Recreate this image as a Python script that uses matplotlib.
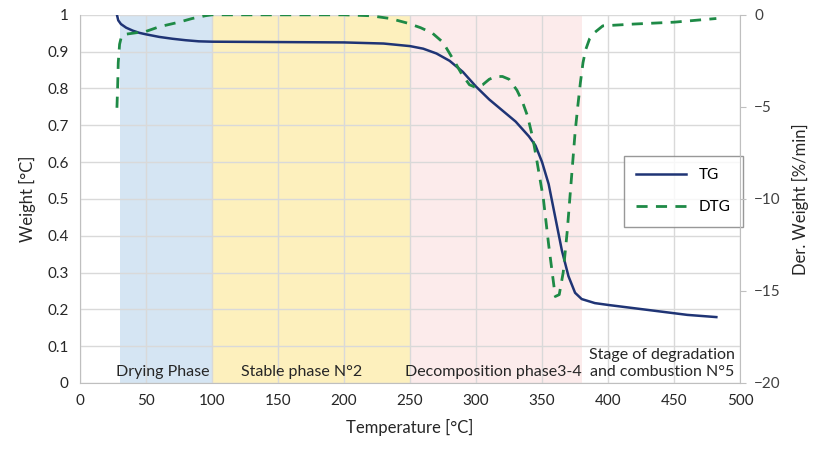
import matplotlib.pyplot as plt

plt.rcParams['font.family'] = ['Lato', 'DejaVu Sans']

# TG curve (weight fraction vs temperature)
tg_temp = [28, 29, 31, 35, 40, 45, 50, 60, 70, 80, 90, 100, 150, 200, 230, 250, 260,
           270, 280, 290, 300, 310, 320, 330, 340, 345, 350, 355, 360, 365, 370,
           375, 380, 390, 400, 420, 440, 460, 482]
tg_weight = [1.0, 0.985, 0.975, 0.965, 0.957, 0.951, 0.947, 0.94, 0.935, 0.931, 0.928,
             0.927, 0.926, 0.925, 0.922, 0.915, 0.908, 0.895, 0.875, 0.845, 0.805,
             0.77, 0.74, 0.71, 0.67, 0.645, 0.6, 0.54, 0.45, 0.36, 0.29, 0.245,
             0.228, 0.217, 0.212, 0.203, 0.194, 0.185, 0.179]

# DTG curve (%/min vs temperature)
dtg_temp = [28, 28.5, 29, 30, 31.5, 35, 40, 50, 60, 75, 85, 95, 100, 150, 200, 220,
            235, 248, 258, 267, 275, 280, 285, 289, 295, 300, 305, 310, 315, 320,
            325, 331, 335, 339, 343, 346, 351, 355, 360, 363, 366, 369, 371, 373,
            375, 377, 379, 381, 383, 386, 390, 396, 420, 450, 482]
dtg_value = [-5.05, -4.0, -2.6, -1.6, -1.15, -1.05, -1.0, -0.9, -0.65, -0.4, -0.2,
             -0.05, 0.0, 0.0, 0.0, -0.05, -0.2, -0.45, -0.7, -1.0, -1.5, -2.1,
             -2.7, -3.2, -3.8, -3.95, -3.8, -3.5, -3.35, -3.35, -3.5, -4.1, -4.7,
             -5.5, -6.7, -7.9, -10.0, -12.5, -15.3, -15.2, -14.0, -11.8, -10.0,
             -8.2, -6.4, -5.0, -3.7, -2.6, -1.9, -1.3, -0.95, -0.6, -0.5, -0.4, -0.2]

# shaded phases (start, end, colour)
phase_start = [30, 100, 250]
phase_end = [100, 250, 380]
phase_color = ['#d5e5f3', '#fdf0bd', '#fcebeb']

phase_labels = ['Drying Phase', 'Stable phase N°2', 'Decomposition phase3-4',
                'Stage of degradation\nand combustion N°5']
label_x = [63, 168, 313, 441]

fig = plt.figure(figsize=(8.16, 4.49), dpi=100)
ax = fig.add_axes([0.098, 0.147, 0.809, 0.820])
ax2 = ax.twinx()

for s, e, c in zip(phase_start, phase_end, phase_color):
    ax.axvspan(s, e, color=c, zorder=0, lw=0)

ax.set_xlim(0, 500)
ax.set_ylim(0, 1)
ax.set_xticks(range(0, 501, 50))
ax.set_yticks([i / 10 for i in range(11)])
ax.set_yticklabels(['0', '0.1', '0.2', '0.3', '0.4', '0.5', '0.6', '0.7', '0.8', '0.9', '1'])
ax.grid(True, color='#d9d9d9', lw=1, zorder=1)
ax.set_axisbelow(True)

ax2.set_ylim(-20, 0)
ax2.set_yticks([-20, -15, -10, -5, 0])

tg_line, = ax.plot(tg_temp, tg_weight, color='#1f3475', lw=1.8, zorder=4, label='TG')
dtg_line, = ax2.plot(dtg_temp, dtg_value, color='#1e8a46', lw=2.0, ls=(0, (4, 3)),
                     zorder=4, label='DTG')

for lab, x in zip(phase_labels, label_x):
    ax.text(x, 0.012, lab, ha='center', va='bottom', fontsize=11.5, color='#262626',
            linespacing=1.2, zorder=5)

for a in (ax, ax2):
    for side in ('top', 'right', 'left', 'bottom'):
        a.spines[side].set_visible(False)
ax.spines['bottom'].set_visible(True)
ax.spines['bottom'].set_color('#bfbfbf')
ax.spines['left'].set_visible(True)
ax.spines['left'].set_color('#bfbfbf')
ax2.spines['right'].set_visible(True)
ax2.spines['right'].set_color('#bfbfbf')

ax.tick_params(axis='both', length=0, labelsize=11, colors='#262626', pad=8)
ax2.tick_params(axis='y', length=4, color='#bfbfbf', labelsize=11,
                colors='#404040', labelcolor='#404040', pad=6)

ax.set_xlabel('Temperature [°C]', fontsize=12, color='#262626', labelpad=8)
ax.set_ylabel('Weight [°C]', fontsize=12, color='#262626', labelpad=8)
ax2.set_ylabel('Der. Weight [%/min]', fontsize=12, color='#262626', labelpad=8)

leg = ax.legend(handles=[tg_line, dtg_line], loc='upper left',
                bbox_to_anchor=(0.812, 0.638), fontsize=11, frameon=True,
                fancybox=False, edgecolor='#7f7f7f', handlelength=3.3,
                labelspacing=1.2, borderpad=0.8)
leg.get_frame().set_linewidth(1.0)
leg.set_zorder(10)

fig.savefig('out.png', dpi=100)
